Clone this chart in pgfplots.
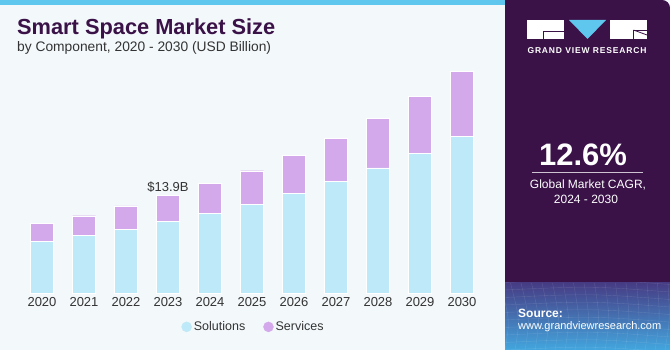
\documentclass[border=0pt]{standalone}
\usepackage{pgfplots}
\pgfplotsset{compat=1.18}
\usepackage{fontspec}
\setmainfont{Liberation Sans}
\definecolor{bgc}{HTML}{F3F8FB}
\definecolor{panel}{HTML}{3A1248}
\definecolor{stripe}{HTML}{5FC7EE}
\definecolor{sol}{HTML}{BEE9F9}
\definecolor{serv}{HTML}{D4A9EC}
\definecolor{titlec}{HTML}{3A1248}
\definecolor{txt}{HTML}{333333}
\definecolor{gradtop}{HTML}{463C84}
\definecolor{gradbot}{HTML}{43A6DE}
\begin{document}
\begin{tikzpicture}[x=1pt,y=1pt]
\fill[bgc] (0,0) rectangle (670,350);
\fill[stripe] (0,345) rectangle (505,350);
\fill[panel] (505,0) -- (505,350) [rounded corners=8pt] -- (670,350) [sharp corners] -- (670,0) -- cycle;
\shade[top color=gradtop, bottom color=gradbot] (505,0) rectangle (670,67);
\begin{scope}
\clip (505,0) rectangle (670,67);
\foreach \i in {0,...,16} {\draw[white, opacity=0.12, line width=0.4pt] (505+\i*10,0) .. controls (510+\i*10,30) .. (500+\i*10.5,67);}
\foreach \j in {0,...,9} {\draw[white, opacity=0.12, line width=0.4pt] (505,\j*7.5) .. controls (590,\j*7.5+4) .. (670,\j*7.5-2);}
\end{scope}
% logo
\fill[white] (527,311) rectangle (564,330);
\draw[panel, line width=0.8pt] (543.5,311) -- (543.5,318.5) -- (564,318.5);
\fill[stripe] (569,330) -- (606,330) -- (587.5,311) -- cycle;
\fill[white] (610,311) rectangle (647,330);
\draw[panel, line width=0.8pt] (633.5,311) -- (633.5,320) -- (647,320);
\draw[panel, line width=0.8pt] (633.5,320) -- (647,315);
\node[white, font=\bfseries\fontsize{8.5}{8.5}\selectfont\addfontfeatures{LetterSpace=10}, inner sep=0] at (587,299) {GRAND VIEW RESEARCH};
% CAGR
\node[white, anchor=base, font=\bfseries\fontsize{31}{31}\selectfont, inner sep=0] at (583,184) {12.6\%};
\draw[white!75!panel, line width=0.8pt] (532,177.3) -- (643,177.3);
\node[white, anchor=base, font=\fontsize{12}{12}\selectfont, inner sep=0] at (588,161) {Global Market CAGR,};
\node[white, anchor=base, font=\fontsize{12}{12}\selectfont, inner sep=0] at (586,146) {2024 - 2030};
% source
\node[white, anchor=base west, font=\bfseries\fontsize{12}{12}\selectfont, inner sep=0] at (518,32) {Source:};
\node[white, anchor=base west, font=\fontsize{11}{11}\selectfont, inner sep=0] at (518,20) {www.grandviewresearch.com};
% titles
\node[anchor=base west, font=\bfseries\fontsize{21.8}{21.8}\selectfont, text=titlec, inner sep=0] at (17,315) {Smart Space Market Size};
\node[anchor=base west, font=\fontsize{13.8}{13.8}\selectfont, text=txt, inner sep=0] at (17,298) {by Component, 2020 - 2030 (USD Billion)};
\begin{axis}[
  at={(0pt,57pt)}, anchor=south west,
  scale only axis, width=504pt, height=280pt,
  xmin=-1, xmax=11, ymin=0, ymax=40,
  ybar stacked, bar width=23pt,
  axis line style={draw=none}, tick style={draw=none}, major tick length=0pt,
  ytick=\empty,
  xtick={0,1,2,3,4,5,6,7,8,9,10},
  xticklabels={2020,2021,2022,2023,2024,2025,2026,2027,2028,2029,2030},
  xticklabel style={font=\fontsize{13}{13}\selectfont, text=txt, yshift=-1pt},
  clip=false,
  legend style={at={(0.503,-0.121)}, anchor=center, draw=none, fill=none,
    legend columns=2, font=\fontsize{12.5}{12.5}\selectfont, text=txt,
    /tikz/every even column/.append style={column sep=16pt}},
]
\addplot[fill=sol, draw=white, line width=0.4pt,
  legend image code/.code={\fill[sol] (4pt,0pt) circle (5pt);}]
  coordinates {(0,7.39) (1,8.19) (2,9.10) (3,10.24) (4,11.33) (5,12.71) (6,14.24) (7,15.96) (8,17.86) (9,19.96) (10,22.33)};
\addlegendentry{Solutions}
\addplot[fill=serv, draw=white, line width=0.4pt,
  legend image code/.code={\fill[serv] (4pt,0pt) circle (5pt);}]
  coordinates {(0,2.51) (1,2.85) (2,3.33) (3,3.66) (4,4.34) (5,4.76) (6,5.43) (7,6.18) (8,7.10) (9,8.18) (10,9.38)};
\addlegendentry{Services}
\node[anchor=south, font=\fontsize{13}{13}\selectfont, text=txt] at (axis cs:3,13.9) {\$13.9B};
\end{axis}
\end{tikzpicture}
\end{document}
